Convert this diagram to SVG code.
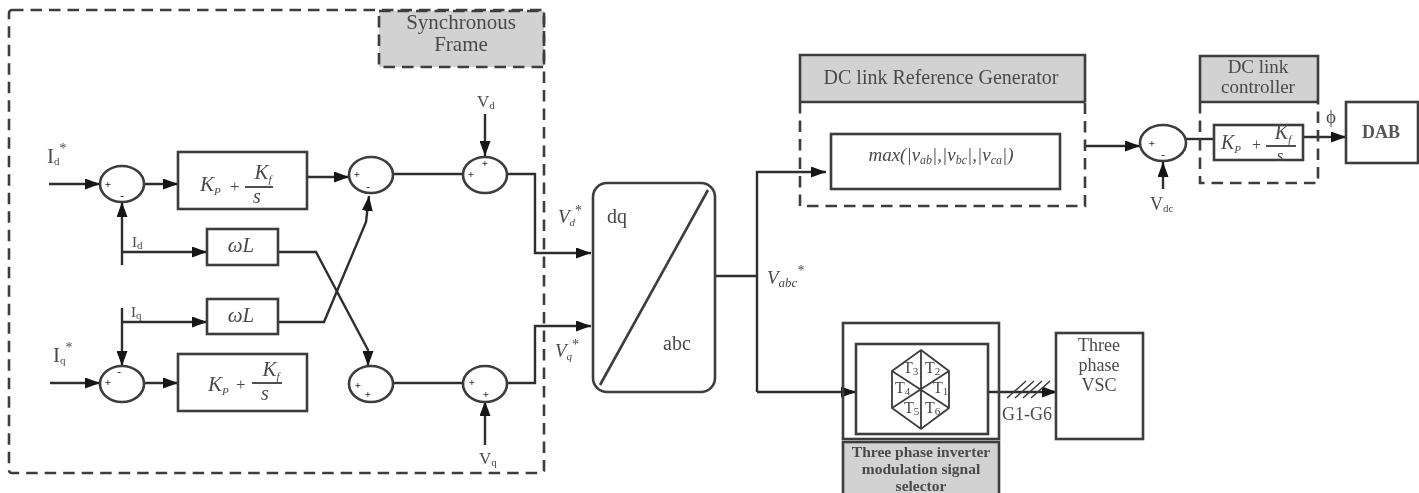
<svg xmlns="http://www.w3.org/2000/svg" width="1419" height="493" viewBox="0 0 1419 493">
<defs>
<marker id="ah" viewBox="0 0 15 11" refX="15" refY="5.5" markerWidth="15" markerHeight="11" markerUnits="userSpaceOnUse" orient="auto"><path d="M0 0L15 5.5L0 11Z" fill="#141414"/></marker>
<filter id="soft" filterUnits="userSpaceOnUse" x="0" y="0" width="1419" height="493"><feGaussianBlur stdDeviation="0.7"/></filter>
</defs>
<style>
.b{fill:#fff;stroke:#3c3c3c;stroke-width:2.6}
.g{fill:#d2d2d2;stroke:#3c3c3c;stroke-width:2.6}
.n{fill:none;stroke:#3c3c3c;stroke-width:2.6}
.t{fill:none;stroke:#3c3c3c;stroke-width:1.8}
.d{fill:none;stroke:#3c3c3c;stroke-width:2.6;stroke-dasharray:11.5 7}
.c{fill:none;stroke:#2e2e2e;stroke-width:2.4}
.a{marker-end:url(#ah)}
text{font-family:"Liberation Serif","Times New Roman",serif;fill:#4a4a4a;font-size:15px}
.m{text-anchor:middle}
.i{font-style:italic}
.s{font-size:11px}
.r{font-style:normal}
.p{font-size:11px;fill:#222;font-weight:bold}
.h{font-size:20px}
.k{font-size:21px;font-style:italic}
</style>
<g filter="url(#soft)">
<g id="synchronous-frame">
<rect x="379" y="11" width="165" height="56" fill="#d2d2d2"/>
<rect class="d" x="9" y="10" width="535" height="463" rx="3"/>
<rect class="d" x="379" y="11" width="165" height="56"/>
<text class="m" x="461" y="29" style="font-size:21px">Synchronous</text>
<text class="m" x="461" y="51" style="font-size:21px">Frame</text>
</g>
<g id="connectors">
<path class="c a" d="M49 184H100"/>
<path class="c a" d="M144 184H178"/>
<path class="c a" d="M122 265V202"/>
<path class="c a" d="M122 252H207"/>
<path class="c a" d="M307 177H349"/>
<path class="c" d="M393 174H463"/>
<path class="c a" d="M485 114V156"/>
<path class="c a" d="M507 174H535V253H591"/>
<path class="c a" d="M278 252H316L368 350V366"/>
<path class="c a" d="M278 322H324L366 222L369 196"/>
<path class="c a" d="M122 308V366"/>
<path class="c a" d="M122 322H207"/>
<path class="c a" d="M50 383H100"/>
<path class="c a" d="M144 383H178"/>
<path class="c" d="M393 383H463"/>
<path class="c a" d="M485 445V401"/>
<path class="c a" d="M507 383H535V326H591"/>
<path class="c" d="M715 276H757"/>
<path class="c a" d="M757 392V172H826"/>
<path class="c a" d="M757 392H856"/>
<path class="c a" d="M1085 146H1140"/>
<path class="c a" d="M1163 189V162"/>
<path class="c" d="M1186 139H1214"/>
<path class="c a" d="M1303 137H1346"/>
<path class="c a" d="M988 392H1057"/>
<path class="t" d="M1007 398L1026 381M1015 398L1034 381M1023 398L1042 381M1031 398L1050 381" style="stroke-width:1.5"/>
</g>
<g id="sum-d1"><ellipse class="b" cx="122" cy="184" rx="22" ry="18"/><text class="p m" x="108" y="188">+</text><text class="p m" x="122" y="199">-</text></g>
<g id="sum-d2"><ellipse class="b" cx="371" cy="175" rx="22" ry="18"/><text class="p m" x="357" y="178">+</text><text class="p m" x="368" y="190">-</text></g>
<g id="sum-d3"><ellipse class="b" cx="485" cy="175" rx="22" ry="18"/><text class="p m" x="471" y="178">+</text><text class="p m" x="485" y="167">+</text></g>
<g id="sum-q1"><ellipse class="b" cx="122" cy="384" rx="22" ry="18"/><text class="p m" x="108" y="386">+</text><text class="p m" x="119" y="375">-</text></g>
<g id="sum-q2"><ellipse class="b" cx="371" cy="384" rx="22" ry="18"/><text class="p m" x="358" y="389">+</text><text class="p m" x="368" y="398">+</text></g>
<g id="sum-q3"><ellipse class="b" cx="485" cy="384" rx="22" ry="18"/><text class="p m" x="472" y="386">+</text><text class="p m" x="486" y="398">+</text></g>
<g id="pi-d"><rect class="b" x="178" y="152" width="129" height="57"/><text class="k" x="200" y="191">K<tspan class="s" dy="4">P</tspan></text><text class="r" x="230" y="192" style="font-size:17px">+</text><path class="t" d="M245 187H273"/><text class="k m" x="263" y="179">K<tspan class="s" dy="4">f</tspan></text><text class="i m" x="257" y="203" style="font-size:20px">s</text></g>
<g id="pi-q"><rect class="b" x="178" y="354" width="129" height="57"/><text class="k" x="208" y="391">K<tspan class="s" dy="4">P</tspan></text><text class="r" x="236" y="390" style="font-size:17px">+</text><path class="t" d="M252 383H282"/><text class="k m" x="271" y="376">K<tspan class="s" dy="4">f</tspan></text><text class="i m" x="265" y="400" style="font-size:20px">s</text></g>
<g id="wl-d"><rect class="b" x="207" y="229" width="71" height="36"/><text class="i m" x="241" y="252" style="font-size:21px">ωL</text></g>
<g id="wl-q"><rect class="b" x="207" y="299" width="71" height="35"/><text class="i m" x="241" y="322" style="font-size:21px">ωL</text></g>
<g id="labels-left">
<text x="47" y="163" style="font-size:21px">I<tspan class="s" dy="2">d</tspan><tspan dy="-12" style="font-size:14px">*</tspan></text>
<text x="53" y="362" style="font-size:21px">I<tspan class="s" dy="2">q</tspan><tspan dy="-12" style="font-size:14px">*</tspan></text>
<text x="132" y="247" style="font-size:15px">I<tspan class="s" dy="2">d</tspan></text>
<text x="131" y="317" style="font-size:15px">I<tspan class="s" dy="2">q</tspan></text>
<text x="477" y="107" style="font-size:17px">V<tspan class="s" dy="2">d</tspan></text>
<text x="479" y="464" style="font-size:17px">V<tspan class="s" dy="2">q</tspan></text>
<text class="i" x="558" y="223" style="font-size:19px">V<tspan class="s" dy="3">d</tspan><tspan class="r" dy="-11" style="font-size:14px">*</tspan></text>
<text class="i" x="555" y="357" style="font-size:19px">V<tspan class="s" dy="3">q</tspan><tspan class="r" dy="-11" style="font-size:14px">*</tspan></text>
</g>
<g id="dq-abc">
<rect class="b" x="593" y="183" width="122" height="209" rx="14"/>
<path class="n" d="M600 385L708 190"/>
<text class="h" x="607" y="223">dq</text>
<text class="h" x="663" y="350">abc</text>
</g>
<text id="vabc" class="i" x="767" y="284" style="font-size:19px">V<tspan dy="3" style="font-size:13px">abc</tspan><tspan class="r" dy="-12" style="font-size:14px">*</tspan></text>
<g id="dc-ref">
<rect x="800" y="55" width="285" height="47" fill="#d2d2d2"/>
<path class="n" d="M800 102V55H1085V102M800 102H1085"/>
<path class="d" d="M800 102V206H1085V102"/>
<rect class="b" x="831" y="134" width="229" height="55"/>
<text class="m" x="941" y="84" style="font-size:20px">DC link Reference Generator</text>
<text class="m i" x="941" y="161" style="font-size:19px">max(|v<tspan dy="3" style="font-size:12px">ab</tspan><tspan dy="-3">|,|v</tspan><tspan dy="3" style="font-size:12px">bc</tspan><tspan dy="-3">|,|v</tspan><tspan dy="3" style="font-size:12px">ca</tspan><tspan dy="-3">|)</tspan></text>
</g>
<g id="sum-dc"><ellipse class="b" cx="1163" cy="143" rx="23" ry="18"/><text class="p m" x="1152" y="147">+</text><text class="p m" x="1163" y="158">-</text><text x="1150" y="210" style="font-size:18px">V<tspan class="s" dy="2">dc</tspan></text></g>
<g id="dc-ctrl">
<rect x="1200" y="56" width="118" height="46" fill="#d2d2d2"/>
<path class="n" d="M1200 102V56H1318V102M1200 102H1318"/>
<path class="d" d="M1200 102V183H1318V102"/>
<text class="m" x="1258" y="73" style="font-size:19px">DC link</text>
<text class="m" x="1258" y="93" style="font-size:19px">controller</text>
<rect class="b" x="1214" y="125" width="89" height="35"/>
<text class="k" x="1221" y="149" style="font-size:20px">K<tspan class="s" dy="4">P</tspan></text>
<text class="r" x="1252" y="150" style="font-size:16px">+</text>
<path class="t" d="M1266 146H1296"/>
<text class="k m" x="1283" y="139" style="font-size:20px">K<tspan class="s" dy="4">f</tspan></text>
<text class="i m" x="1280" y="161" style="font-size:17px">s</text>
</g>
<text id="phi" class="m" x="1331" y="123" style="font-size:19px">ϕ</text>
<g id="dab"><rect class="b" x="1346" y="102" width="72" height="61"/><text class="m" x="1381" y="138" style="font-size:18px;font-weight:bold;fill:#555">DAB</text></g>
<g id="modulator">
<rect class="n" x="843" y="323" width="156" height="116"/>
<rect class="b" x="856" y="344" width="132" height="90"/>
<path class="t" d="M921 350L949 371V408L921 429L892 408V371ZM921 350V429M892 371L949 408M892 408L949 371"/>
<text x="903" y="373" style="font-size:16px">T<tspan class="s" dy="2">3</tspan></text>
<text x="925" y="373" style="font-size:16px">T<tspan class="s" dy="2">2</tspan></text>
<text x="895" y="393" style="font-size:16px">T<tspan class="s" dy="2">4</tspan></text>
<text x="933" y="393" style="font-size:16px">T<tspan class="s" dy="2">1</tspan></text>
<text x="904" y="413" style="font-size:16px">T<tspan class="s" dy="2">5</tspan></text>
<text x="925" y="413" style="font-size:16px">T<tspan class="s" dy="2">6</tspan></text>
<rect class="g" x="843" y="442" width="156" height="54"/>
<text class="m" x="921" y="457" style="font-size:15.5px;font-weight:bold">Three phase inverter</text>
<text class="m" x="921" y="474" style="font-size:15.5px;font-weight:bold">modulation signal</text>
<text class="m" x="921" y="491" style="font-size:15.5px;font-weight:bold">selector</text>
</g>
<text id="g1g6" class="m" x="1027" y="420" style="font-size:18px">G1-G6</text>
<g id="vsc">
<rect class="b" x="1056" y="333" width="87" height="106"/>
<text class="m" x="1099" y="351" style="font-size:18px">Three</text>
<text class="m" x="1099" y="371" style="font-size:18px">phase</text>
<text class="m" x="1099" y="391" style="font-size:18px">VSC</text>
</g>
</g>
</svg>
